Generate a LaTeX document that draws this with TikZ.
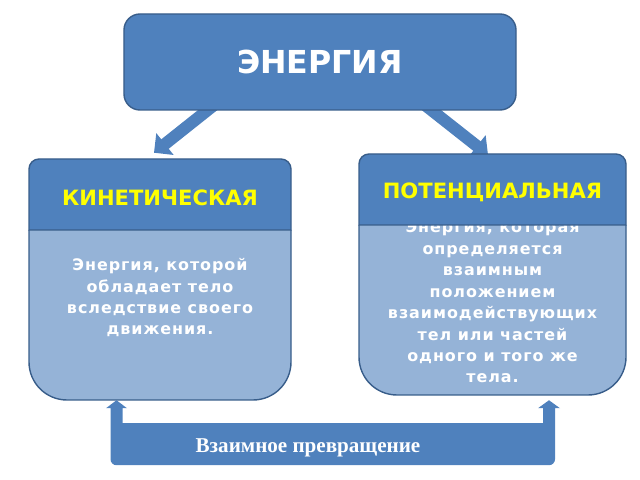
\documentclass[tikz,border=0pt]{standalone}
\usepackage{fontspec}
\setmainfont{DejaVu Sans}
\newfontfamily\bodyfont[LetterSpace=6]{DejaVu Sans}
\newfontfamily\timesfont{Liberation Serif}
\usetikzlibrary{arrows.meta,calc,backgrounds}

\definecolor{headblue}{HTML}{4F81BD}
\definecolor{bodyblue}{HTML}{95B3D7}
\definecolor{edgeblue}{HTML}{385D8A}
\definecolor{headyellow}{HTML}{FFFF00}

\tikzset{
    mainbox/.style={draw=edgeblue, line width=1.2pt, fill=headblue, rounded corners=0.48cm,
        minimum width=11.76cm, minimum height=2.88cm, text=white,
        font=\bfseries\fontsize{27}{30}\selectfont},
    cardbox/.style={inner sep=0pt, minimum height=7.23cm},
    boxline/.style={draw=edgeblue, line width=1.2pt},
    headtext/.style={inner sep=0pt, text=headyellow, font=\bfseries\fontsize{18}{20}\selectfont},
    bodytext/.style={inner sep=0pt, align=center, text=white,
        font=\bodyfont\bfseries\fontsize{13.6}{18.3}\selectfont},
    fatarrow/.style={headblue, line width=0.36cm, -{Triangle[width=0.81cm,length=0.42cm]}}
}

\begin{document}
\begin{tikzpicture}[x=0.03cm, y=0.03cm]
    \useasboundingbox (0,0) rectangle (640,480);

    \node[mainbox] (energy) at (320,418) {ЭНЕРГИЯ};

    % cards
    \node[cardbox, minimum width=7.86cm] (kin) at (160,200.5) {};
    \node[cardbox, minimum width=8.01cm] (pot) at (492.5,205.5) {};

    % kinetic card
    \draw[boxline, fill=bodyblue] (29,250) -- (29,118) arc[start angle=180, end angle=270, radius=1.14cm]
        -- (253,80) arc[start angle=270, end angle=360, radius=1.14cm] -- (291,250);
    \node[bodytext, anchor=base] (kintext) at (160,145)
        {Энергия, которой\\обладает тело\\вследствие своего\\движения.};
    \draw[boxline, fill=headblue] (29,250) -- (29,311) arc[start angle=180, end angle=90, radius=0.3cm]
        -- (281,321) arc[start angle=90, end angle=0, radius=0.3cm] -- (291,250) -- cycle;
    \node[headtext] (kinhead) at (160,282.5) {КИНЕТИЧЕСКАЯ};

    % potential card
    \draw[boxline, fill=bodyblue] (359,255) -- (359,123) arc[start angle=180, end angle=270, radius=1.14cm]
        -- (588,85) arc[start angle=270, end angle=360, radius=1.14cm] -- (626,255);
    \node[bodytext, anchor=base] (pottext) at (492.5,97)
        {Энергия, которая\\определяется\\взаимным\\положением\\взаимодействующих\\тел или частей\\одного и того же\\тела.};
    \draw[boxline, fill=headblue] (359,255) -- (359,316) arc[start angle=180, end angle=90, radius=0.3cm]
        -- (616,326) arc[start angle=90, end angle=0, radius=0.3cm] -- (626,255) -- cycle;
    \node[headtext] (pothead) at (492.5,288) {ПОТЕНЦИАЛЬНАЯ};

    \begin{scope}[on background layer]
        \draw[fatarrow] ($(energy.south)+(-103,8)$) -- ($(kin.north)+(-6,6)$);
        \draw[fatarrow] ($(energy.south)+(102,8)$) -- ($(pot.north)+(-4.5,-1)$);
    \end{scope}

    % mutual conversion bracket
    \coordinate (kinfoot) at ($(kin.south)+(-43.5,0)$);
    \coordinate (potfoot) at ($(pot.south)+(56.5,-5)$);
    \fill[headblue] (kinfoot) -- ++(10.5,-8) -- ++(-4.5,0) -- ++(0,-15) -- ++(420.5,0)
        -- ++(0,15) -- ++(-5,0) -- (potfoot) -- ++(11,-8) -- ++(-5,0) -- ++(0,-51)
        arc[start angle=0, end angle=-90, radius=0.18cm] -- ++(-432.5,0)
        arc[start angle=270, end angle=180, radius=0.18cm] -- ++(0,51) -- ++(-4.5,0) -- cycle;
    \node[text=white, font=\timesfont\bfseries\fontsize{18}{20}\selectfont] (mutual) at (308,32)
        {Взаимное превращение};
\end{tikzpicture}
\end{document}
